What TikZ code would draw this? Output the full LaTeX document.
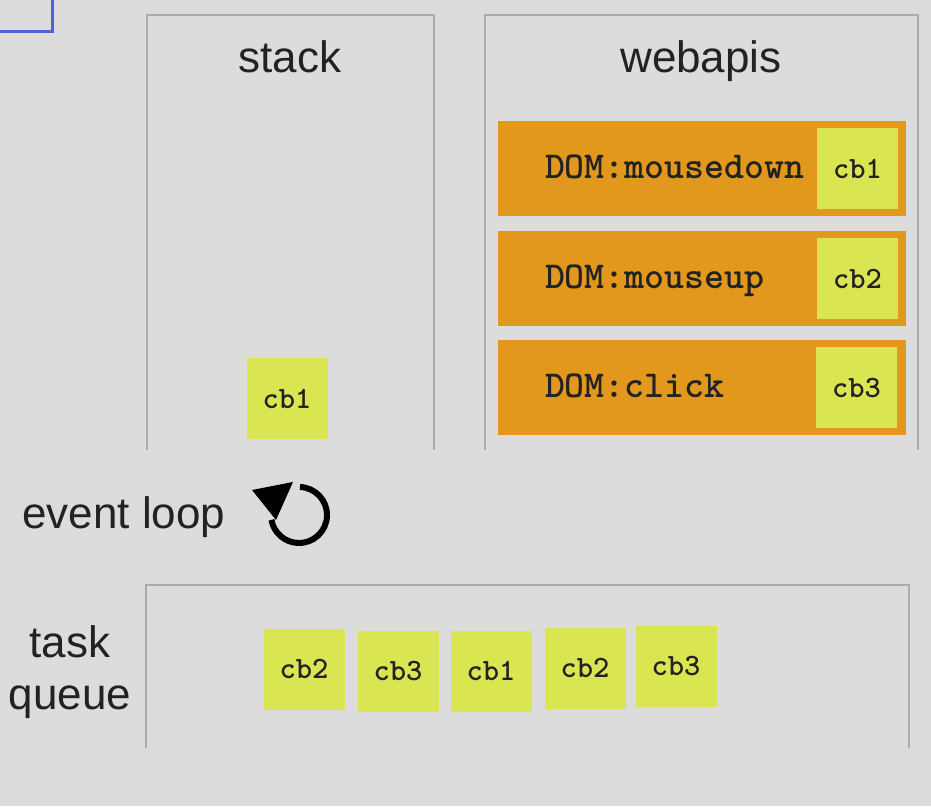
\documentclass[tikz,border=0pt]{standalone}
\usepackage{fontspec}
\setmainfont{Liberation Sans}
\usepackage{tikz}
\usetikzlibrary{calc, positioning}

\definecolor{bggray}{HTML}{DCDCDC}
\definecolor{framegray}{HTML}{ABABAB}
\definecolor{apiorange}{HTML}{E1981C}
\definecolor{cbyellow}{HTML}{D9E651}
\definecolor{selblue}{HTML}{4868CC}
\definecolor{inkgray}{HTML}{222222}

\tikzset{
  panel/.style={draw=framegray, line width=1.5pt},
  biglabel/.style={font=\fontsize{44}{52}\selectfont, text=inkgray},
  apibar/.style={fill=apiorange, minimum width=408pt, minimum height=95pt, inner sep=0pt},
  domtext/.style={font=\ttfamily\bfseries\fontsize{38}{38}\selectfont, text=inkgray, anchor=base west, inner sep=0pt},
  cbnote/.style={fill=cbyellow, font=\ttfamily\bfseries\fontsize{31}{31}\selectfont, text=inkgray, minimum width=81pt, minimum height=81pt, inner sep=0pt}
}

\begin{document}
\begin{tikzpicture}[x=1pt, y=1pt]
          \fill [bggray] (0,0) rectangle (931,806); % Draws the background
          \useasboundingbox (0,0) rectangle (931,806);

          \draw [selblue, line width=3pt] (-10,774) -- (52,774) -- (52,816); % Draws a rectangle

          \draw [panel] (147,356) -- (147,791) -- (434,791) -- (434,356); % stack
          \draw [panel] (485,356) -- (485,791) -- (918,791) -- (918,356); % webapis
          \draw [panel] (146,58) -- (146,221) -- (909,221) -- (909,58); % task queue

          \node [biglabel, anchor=base] (stacklabel) at (290,733) {stack};
          \node [biglabel, anchor=base] (apilabel) at (701,733) {webapis};
          \node [biglabel, anchor=base west, inner sep=0pt] (looplabel) at (22,277) {event loop};
          \node [biglabel, anchor=base, align=center, inner sep=0pt] (queuelabel) at (70,97) {task\\queue};

          \node [apibar] (mousedown) at (702,637.5) {};
          \node [apibar] (mouseup) at (702,527) {};
          \node [apibar] (click) at (702,418) {};

          \node [domtext] (mousedowntext) at ($(mousedown.west)+(47,-10)$) {DOM:mousedown};
          \node [domtext] (mouseuptext) at ($(mouseup.west)+(47,-10)$) {DOM:mouseup};
          \node [domtext] (clicktext) at ($(click.west)+(47,-10)$) {DOM:click};

          \node [cbnote, left=8pt of mousedown.east] (apicb1) {cb1};
          \node [cbnote, left=8pt of mouseup.east] (apicb2) {cb2};
          \node [cbnote, left=9pt of click.east] (apicb3) {cb3};

          \node [cbnote] (stackcb1) at (287,407) {cb1};

          \node [cbnote] (queuecb2a) at (304,137) {cb2};
          \node [cbnote] (queuecb3a) at (398,135) {cb3};
          \node [cbnote] (queuecb1) at (491,135) {cb1};
          \node [cbnote] (queuecb2b) at (585,138) {cb2};
          \node [cbnote] (queuecb3b) at (676,140) {cb3};

          % event loop arrow
          \draw [black, line width=6pt] (299,291) ++(88:28) arc [start angle=88, end angle=-170, radius=28];
          \fill [black] (252,316) -- (293,324) -- (276,286) -- cycle;
        \end{tikzpicture}
\end{document}
